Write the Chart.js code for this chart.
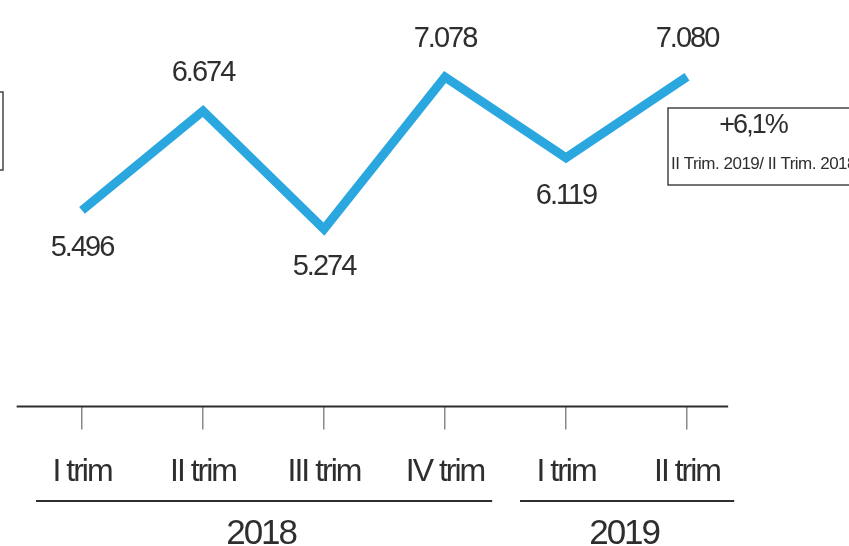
<!DOCTYPE html>
<html>
<head>
<meta charset="utf-8">
<script src="https://cdn.jsdelivr.net/npm/chart.js@4.4.1/dist/chart.umd.min.js"></script>
<style>
  html, body { margin: 0; padding: 0; background: #fff; }
  #wrap { width: 849px; height: 546px; }
</style>
</head>
<body>
<div id="wrap"><canvas id="chart"></canvas></div>
<script>
    /* ===== Data ===== */
    var quarters   = ['I trim', 'II trim', 'III trim', 'IV trim', 'I trim', 'II trim'];
    var values     = [5496, 6674, 5274, 7078, 6119, 7080];
    var valueTexts = ['5.496', '6.674', '5.274', '7.078', '6.119', '7.080'];
    var labelSide  = [1, -1, 1, -1, 1, -1];   // 1 = below the point, -1 = above
    var years      = ['2018', '2019'];
    var yearSpans  = [4, 2];
    var noteMain   = '+6,1%';
    var noteSub    = 'II Trim. 2019/ II Trim. 2018';

    /* ===== Tokens ===== */
    var COLORS = { line: '#2aa7df', ink: '#2e2e2e', tick: '#8a8a8a', box: '#444' };
    var FAMILY = "'Liberation Sans', Arial, sans-serif";
    var TIGHT = '-2px';

    /* condensed look: tighten letter spacing for everything drawn as text */
    var tighten = {
        id: 'tighten',
        beforeLayout: function (chart) { chart.ctx.letterSpacing = TIGHT; },
        beforeDraw: function (chart) { chart.ctx.letterSpacing = TIGHT; }
    };

    /* draws the axis line, year groups, value labels and the note box */
    var decorations = {
        id: 'decorations',
        afterDraw: function (chart) {
            var ctx = chart.ctx;
            var x = chart.scales.x;
            var bottom = chart.chartArea.bottom;
            var step = x.getPixelForValue(1) - x.getPixelForValue(0);
            ctx.save();
            ctx.letterSpacing = TIGHT;

            // axis line
            ctx.strokeStyle = COLORS.ink;
            ctx.lineWidth = 2;
            ctx.beginPath();
            ctx.moveTo(x.getPixelForValue(0) - step * 0.54, bottom);
            ctx.lineTo(x.getPixelForValue(quarters.length - 1) + step * 0.34, bottom);
            ctx.stroke();

            // year groups
            var start = 0;
            ctx.font = '35px ' + FAMILY;
            ctx.fillStyle = COLORS.ink;
            ctx.textAlign = 'center';
            ctx.textBaseline = 'middle';
            years.forEach(function (yr, i) {
                var end = start + yearSpans[i] - 1;
                var l = x.getPixelForValue(start) - step * 0.38;
                var r = x.getPixelForValue(end) + step * 0.39;
                ctx.beginPath();
                ctx.moveTo(l, 501);
                ctx.lineTo(r, 501);
                ctx.stroke();
                ctx.fillText(yr, (l + r) / 2 - 3, 534);
                start = end + 1;
            });

            // value labels
            var meta = chart.getDatasetMeta(0);
            ctx.font = '29px ' + FAMILY;
            meta.data.forEach(function (pt, i) {
                ctx.fillText(valueTexts[i], pt.x, pt.y + labelSide[i] * 38);
            });

            // note box (right) and cut-off box (left)
            ctx.strokeStyle = COLORS.box;
            ctx.lineWidth = 1.5;
            ctx.strokeRect(668, 108, 200, 77);
            ctx.strokeRect(-10, 92, 13, 78);
            ctx.font = '27px ' + FAMILY;
            ctx.fillText(noteMain, 753, 126);
            ctx.letterSpacing = '-0.5px';
            ctx.font = '17px ' + FAMILY;
            ctx.textAlign = 'left';
            ctx.fillText(noteSub, 671, 164);
            ctx.restore();
        }
    };

    new Chart(document.getElementById('chart'), {
        type: 'line',
        data: {
            labels: quarters,
            datasets: [{
                data: values,
                borderColor: COLORS.line,
                borderWidth: 9,
                tension: 0,
                pointRadius: 0,
                borderJoinStyle: 'miter',
                clip: false
            }]
        },
        options: {
            responsive: true,
            maintainAspectRatio: false,
            animation: false,
            layout: { padding: { left: 82, right: 162, top: 0, bottom: 32 } },
            plugins: { legend: { display: false }, tooltip: { enabled: false } },
            scales: {
                x: {
                    offset: false,
                    border: { display: false },
                    grid: { drawOnChartArea: false, drawTicks: true, tickLength: 23, color: COLORS.tick, lineWidth: 1.5 },
                    ticks: { color: COLORS.ink, font: { family: FAMILY, size: 32 }, padding: 23, maxRotation: 0, autoSkip: false }
                },
                y: { display: false, min: 3170, max: 7990 }
            }
        },
        plugins: [tighten, decorations]
    });
</script>
</body>
</html>
